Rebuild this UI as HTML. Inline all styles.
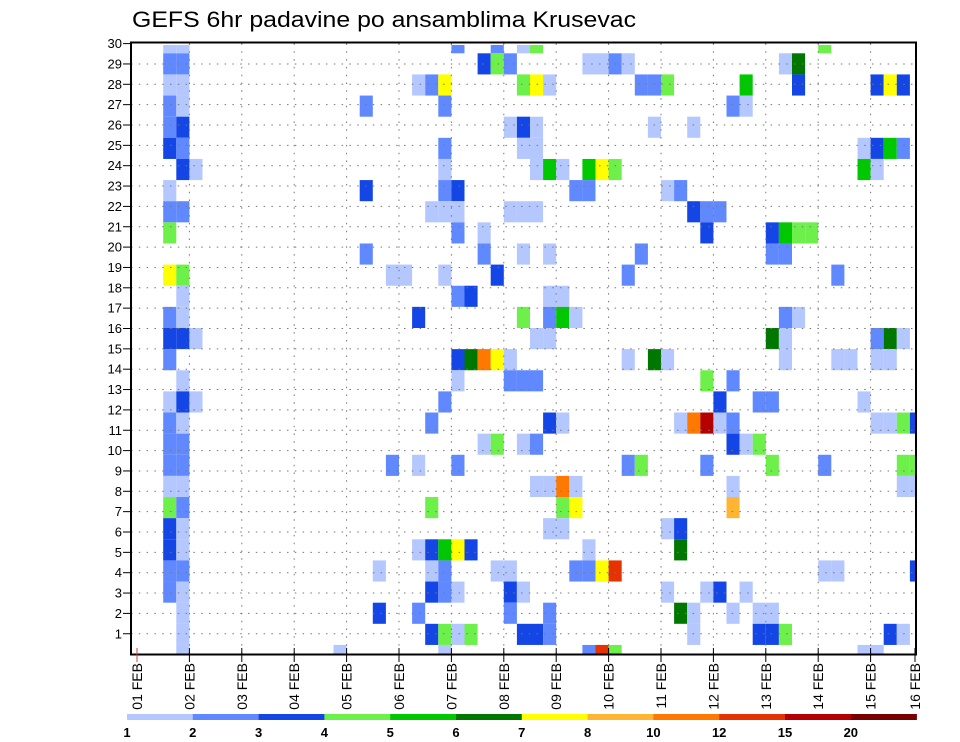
<!DOCTYPE html>
<html><head><meta charset="utf-8"><style>
html,body{margin:0;padding:0;background:#fff;}
svg{display:block;font-family:"Liberation Sans",sans-serif;}
</style></head><body>
<svg id="chart" width="960" height="742" viewBox="0 0 960 742" xmlns="http://www.w3.org/2000/svg">
<text x="132" y="27" font-size="22" textLength="504" lengthAdjust="spacingAndGlyphs" fill="#000">GEFS 6hr padavine po ansamblima Krusevac</text>
<g id="cells"></g>
<g id="grid"></g>
<rect x="131" y="42.5" width="785" height="612" fill="none" stroke="#000" stroke-width="2"/>
<g id="yaxis"></g>
<g id="xaxis"></g>
<g id="legend"></g>
</svg>
<script>
// categories
const dayLabels = ["01 FEB","02 FEB","03 FEB","04 FEB","05 FEB","06 FEB","07 FEB","08 FEB","09 FEB","10 FEB","11 FEB","12 FEB","13 FEB","14 FEB","15 FEB","16 FEB"];
const memberLabels = [1,2,3,4,5,6,7,8,9,10,11,12,13,14,15,16,17,18,19,20,21,22,23,24,25,26,27,28,29,30];
const legendLabels = ["1","2","3","4","5","6","7","8","10","12","15","20"];
const levelColors = ["#b4c8ff","#6088ff","#1446e6","#6ef04a","#00c800","#007800","#ffff00","#ffb432","#ff7800","#e63200","#b40000","#780000"];
// cell values: per visual row (top to bottom), "timeStep:level" pairs
const rowCells = [
"2:1,3:1,24:2,27:2,29:1,30:4,52:4",
"2:2,3:2,26:3,27:4,28:2,34:1,35:1,36:2,37:1,49:1,50:6",
"2:1,3:1,21:1,22:2,23:7,29:4,30:7,31:1,38:2,39:2,40:4,46:5,50:3,56:3,57:7,58:3",
"2:2,3:1,17:2,23:2,45:2,46:1",
"2:2,3:3,28:1,29:3,30:1,39:1,42:1",
"2:3,3:2,23:2,29:1,30:1,55:1,56:3,57:5,58:2",
"3:3,4:1,23:1,30:1,31:5,32:1,34:5,35:7,36:4,55:5,56:1",
"2:1,17:3,23:2,24:3,33:2,34:2,40:1,41:2",
"2:2,3:2,22:1,23:1,24:1,28:1,29:1,30:1,42:3,43:2,44:2",
"2:4,24:2,26:1,43:3,48:3,49:5,50:4,51:4",
"17:2,26:2,29:1,31:1,38:2,48:2,49:2",
"2:7,3:4,19:1,20:1,23:1,27:3,37:2,53:2",
"3:1,24:2,25:3,31:1,32:1",
"2:2,3:1,21:3,29:4,31:2,32:5,33:1,49:2,50:1",
"2:3,3:3,4:1,30:1,31:1,48:6,49:1,56:2,57:6,58:1",
"2:2,24:3,25:6,26:9,27:7,28:1,37:1,39:6,40:1,49:1,53:1,54:1,56:1,57:1",
"3:1,24:1,28:2,29:2,30:2,43:4,45:2",
"2:1,3:3,4:1,23:2,44:3,47:2,48:2,55:1",
"2:2,3:1,22:2,31:3,32:1,41:1,42:9,43:11,44:1,45:2,56:1,57:1,58:4,59:3",
"2:2,3:2,26:1,27:4,29:1,30:2,45:3,46:1,47:4",
"2:2,3:2,19:2,21:1,24:2,37:2,38:4,43:2,48:4,52:2,58:4,59:4",
"2:1,3:1,30:1,31:1,32:9,33:1,45:1,58:1,59:1",
"2:4,3:2,22:4,32:4,33:7,45:8",
"2:3,3:1,31:1,32:1,40:1,41:3",
"2:3,3:1,21:1,22:3,23:5,24:7,25:3,34:1,41:6",
"2:2,3:2,18:1,22:1,23:2,27:1,28:1,33:2,34:2,35:7,36:10,52:1,53:1,59:3",
"2:2,3:1,22:3,23:2,24:1,28:3,29:1,40:1,43:1,44:3,46:1",
"3:1,18:3,21:2,28:2,31:2,41:6,42:1,45:1,47:1,48:1",
"3:1,22:3,23:4,24:1,25:4,29:3,30:3,31:2,42:1,47:3,48:3,49:4,57:3,58:1",
"3:1,15:1,23:1,34:2,35:10,36:4,55:1,56:1"
];

const NS = "http://www.w3.org/2000/svg";
const PX0 = 131, PX1 = 916, PY0 = 43.5, PY1 = 654;
function xStep(t){ return 137 + 13.1 * t; }              // time step (6hr) -> x
function xDay(d){ return d === 15 ? 915 : 137 + 52.4 * d; } // day index -> x
function yRowTop(v){ return 53.3 + 21.13 * (v - 1); }    // visual row -> y
function yLabel(m){ return 43.6 + 20.35 * (30 - m); }    // member label -> y
function mk(tag, attrs, parent){
  const e = document.createElementNS(NS, tag);
  for (const k in attrs) e.setAttribute(k, attrs[k]);
  parent.appendChild(e); return e;
}

const cellsG = document.getElementById('cells');
rowCells.forEach((row, v) => {
  if (!row) return;
  row.split(',').forEach(p => {
    const [t, lv] = p.split(':').map(Number);
    let x0 = xStep(t), x1 = xStep(t + 1);
    let y0 = yRowTop(v), y1 = y0 + 21.13;
    x0 = Math.max(x0, PX0); x1 = Math.min(x1, PX1);
    y0 = Math.max(y0, 45); y1 = Math.min(y1, PY1);
    if (x1 <= x0 || y1 <= y0) return;
    const r = mk('rect', {x: x0, y: y0, width: x1 - x0, height: y1 - y0, fill: levelColors[lv - 1]}, cellsG);
    
    
  });
});

const gridG = document.getElementById('grid');
memberLabels.forEach(m => {
  if (m === 30) return;
  const y = yLabel(m);
  const l = mk('line', {x1: PX0, x2: PX1, y1: y, y2: y, stroke: '#777', 'stroke-width': 1, 'stroke-dasharray': '1.5 6.3'}, gridG);
  
  
});
dayLabels.forEach((d, i) => {
  if (i === 0 || i === 15) return;
  const x = xDay(i);
  const l = mk('line', {x1: x, x2: x, y1: PY0, y2: PY1, stroke: '#777', 'stroke-width': 1, 'stroke-dasharray': '1.5 6.3'}, gridG);
  
  
});

const yG = document.getElementById('yaxis');
memberLabels.forEach(m => {
  const y = yLabel(m);
  const tk = mk('line', {x1: 123, x2: 131, y1: y, y2: y, stroke: '#000', 'stroke-width': 1}, yG);
  
  
  const t = mk('text', {x: 122, y: y + 4.5, 'font-size': 13, 'text-anchor': 'end', fill: '#000'}, yG);
  t.textContent = m;
  
  
});

const xG = document.getElementById('xaxis');
dayLabels.forEach((d, i) => {
  const x = xDay(i);
  const tk = mk('line', {x1: x, x2: x, y1: 648, y2: 662, stroke: i === 0 ? '#c44' : '#000', 'stroke-width': 1}, xG);
  
  
  const t = mk('text', {x: 0, y: 0, 'font-size': 14, 'text-anchor': 'end', fill: '#000', transform: `translate(${x + 5},663) rotate(-90)`}, xG);
  t.textContent = d;
  
  
});

const lg = document.getElementById('legend');
const LX0 = 127, LW = 65.8;
levelColors.forEach((c, i) => {
  const r = mk('rect', {x: LX0 + i * LW, y: 714, width: LW + 0.3, height: 6, fill: c}, lg);
  
  
});
legendLabels.forEach((s, i) => {
  const t = mk('text', {x: LX0 + i * LW, y: 737, 'font-size': 13, 'font-weight': 'bold', 'text-anchor': 'middle', fill: '#000'}, lg);
  t.textContent = s;
  
  
});
</script>
</body></html>
